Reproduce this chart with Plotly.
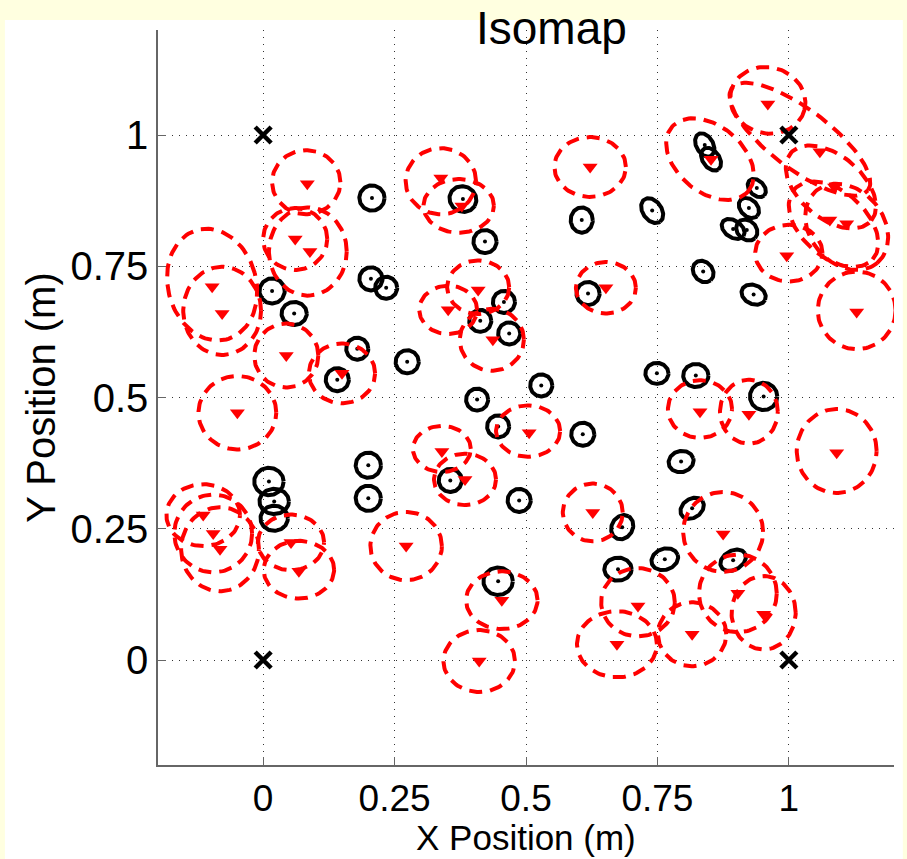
import numpy as np
import plotly.graph_objects as go

# ---- true node positions (black ellipses) ----
true_x = [0.207, 0.380, 0.422, 0.606, 0.740, 0.840, 0.852, 0.939, 0.924, 0.894,
          0.920, 0.837, 0.933, 0.618, 0.017, 0.059, 0.205, 0.234, 0.179, 0.141,
          0.274, 0.458, 0.413, 0.468, 0.407, 0.447, 0.529, 0.749, 0.823, 0.952,
          0.608, 0.795, 0.816, 0.200, 0.200, 0.356, 0.487, 0.011, 0.021, 0.021,
          0.683, 0.675, 0.764, 0.894, 0.447]
true_y = [0.880, 0.878, 0.797, 0.838, 0.856, 0.981, 0.954, 0.899, 0.861, 0.821,
          0.819, 0.740, 0.696, 0.698, 0.703, 0.660, 0.726, 0.709, 0.593, 0.534,
          0.568, 0.682, 0.646, 0.622, 0.496, 0.445, 0.523, 0.546, 0.542, 0.502,
          0.430, 0.378, 0.289, 0.371, 0.308, 0.342, 0.304, 0.340, 0.302, 0.270,
          0.253, 0.173, 0.192, 0.190, 0.150]
true_a = [0.024, 0.026, 0.022, 0.021, 0.026, 0.024, 0.024, 0.020, 0.022, 0.024,
          0.022, 0.022, 0.024, 0.022, 0.024, 0.024, 0.022, 0.021, 0.021, 0.022,
          0.022, 0.021, 0.021, 0.021, 0.021, 0.021, 0.021, 0.022, 0.024, 0.026,
          0.022, 0.024, 0.024, 0.024, 0.024, 0.022, 0.022, 0.028, 0.028, 0.026,
          0.024, 0.026, 0.026, 0.026, 0.028]
true_b = [0.024, 0.024, 0.022, 0.024, 0.018, 0.016, 0.016, 0.014, 0.016, 0.016,
          0.018, 0.018, 0.018, 0.022, 0.024, 0.022, 0.022, 0.021, 0.021, 0.022,
          0.022, 0.021, 0.021, 0.021, 0.021, 0.021, 0.021, 0.020, 0.022, 0.026,
          0.022, 0.020, 0.018, 0.024, 0.024, 0.022, 0.022, 0.026, 0.024, 0.024,
          0.020, 0.022, 0.020, 0.018, 0.026]
true_ang = [0, -30, 0, 0, -55, -60, -55, -45, -45, -35,
            -45, -50, -25, 0, 0, 0, 0, 0, 0, 0,
            0, 0, 0, 0, 0, 0, 0, 0, 0, 0,
            0, 15, 35, 0, 0, 0, 0, 0, 0, 0,
            60, 0, 20, 30, 0]

# ---- Isomap estimates (red triangles) ----
est_x = [0.084, 0.338, 0.378, 0.622, 0.960, 1.059, 1.087, 1.078, 1.110, 0.996,
         1.129, 0.852, 0.652, -0.097, -0.078, 0.061, 0.089, 0.044, -0.049, 0.150,
         0.409, 0.352, 0.437, 0.340, 0.384, 0.506, 0.831, 0.924, 1.091, 0.627,
         0.875, 0.713, 0.903, 0.952, 0.816, 0.673, 0.454, 0.411, 0.272, -0.114,
         -0.095, -0.082, 0.053, 0.068]
est_y = [0.907, 0.918, 0.865, 0.939, 1.059, 0.968, 0.901, 0.838, 0.831, 0.770,
         0.663, 0.954, 0.709, 0.711, 0.660, 0.802, 0.778, 0.580, 0.471, 0.546,
         0.705, 0.667, 0.610, 0.397, 0.344, 0.433, 0.473, 0.468, 0.395, 0.281,
         0.240, 0.103, 0.127, 0.087, 0.049, 0.030, 0.114, -0.002, 0.217, 0.276,
         0.241, 0.211, 0.224, 0.169]
# ---- uncertainty ellipses of the estimates (red dashed) ----
ell_x = [0.082, 0.338, 0.372, 0.622, 0.960, 1.021, 1.080, 1.085, 1.110, 1.000,
         1.129, 0.850, 0.652, -0.097, -0.078, 0.061, 0.085, 0.044, -0.049, 0.150,
         0.409, 0.352, 0.435, 0.340, 0.384, 0.504, 0.831, 0.924, 1.091, 0.627,
         0.875, 0.713, 0.903, 0.952, 0.816, 0.673, 0.454, 0.411, 0.272, -0.114,
         -0.095, -0.082, 0.053, 0.068]
ell_y = [0.910, 0.912, 0.865, 0.939, 1.066, 0.992, 0.901, 0.830, 0.825, 0.775,
         0.666, 0.954, 0.709, 0.715, 0.665, 0.802, 0.778, 0.580, 0.471, 0.546,
         0.710, 0.667, 0.610, 0.402, 0.344, 0.436, 0.478, 0.473, 0.398, 0.281,
         0.244, 0.110, 0.127, 0.090, 0.049, 0.030, 0.114, -0.002, 0.217, 0.276,
         0.241, 0.211, 0.224, 0.172]
ell_a = [0.065, 0.067, 0.067, 0.068, 0.072, 0.162, 0.100, 0.100, 0.090, 0.064,
         0.074, 0.095, 0.057, 0.084, 0.074, 0.061, 0.074, 0.061, 0.074, 0.063,
         0.059, 0.055, 0.061, 0.055, 0.059, 0.061, 0.061, 0.055, 0.076, 0.057,
         0.076, 0.070, 0.074, 0.061, 0.065, 0.076, 0.068, 0.068, 0.068, 0.070,
         0.074, 0.074, 0.063, 0.067]
ell_b = [0.061, 0.063, 0.051, 0.057, 0.063, 0.057, 0.060, 0.062, 0.070, 0.054,
         0.074, 0.063, 0.049, 0.108, 0.084, 0.059, 0.084, 0.061, 0.070, 0.057,
         0.051, 0.046, 0.059, 0.044, 0.049, 0.049, 0.055, 0.061, 0.080, 0.055,
         0.076, 0.065, 0.074, 0.070, 0.061, 0.063, 0.055, 0.059, 0.065, 0.059,
         0.074, 0.080, 0.053, 0.055]
ell_ang = [0, 0, 0, 0, -15, -37, -40, -42, -50, 0,
           0, -40, 0, 15, 0, 0, 0, 0, 0, 0,
           0, 0, 0, 0, 0, 0, 0, 0, 0, 0,
           0, 0, 0, 0, 0, 0, 0, 0, 0, 0,
           0, 0, 0, 0]

# ---- anchor nodes ----
anchor_x = [0, 0, 1, 1]
anchor_y = [0, 1, 0, 1]

tick_vals = [0, 0.25, 0.5, 0.75, 1]
tick_text = ["0", "0.25", "0.5", "0.75", "1"]


def ellipses(cx, cy, a, b, ang, n=120):
    t = np.linspace(0, 2 * np.pi, n)
    xs, ys = [], []
    for x0, y0, aa, bb, g in zip(cx, cy, a, b, ang):
        th = np.deg2rad(g)
        ex = x0 + aa * np.cos(t) * np.cos(th) - bb * np.sin(t) * np.sin(th)
        ey = y0 + aa * np.cos(t) * np.sin(th) + bb * np.sin(t) * np.cos(th)
        xs += list(ex) + [None]
        ys += list(ey) + [None]
    return xs, ys


fig = go.Figure()

bx, by = ellipses(true_x, true_y, true_a, true_b, true_ang)
fig.add_trace(go.Scatter(x=bx, y=by, mode="lines",
                         line=dict(color="black", width=4), hoverinfo="skip"))
fig.add_trace(go.Scatter(x=true_x, y=true_y, mode="markers",
                         marker=dict(color="black", size=4)))

rx, ry = ellipses(ell_x, ell_y, ell_a, ell_b, ell_ang)
fig.add_trace(go.Scatter(x=rx, y=ry, mode="lines",
                         line=dict(color="#ff0000", width=4, dash="13px,8px"),
                         hoverinfo="skip"))
fig.add_trace(go.Scatter(x=est_x, y=est_y, mode="markers",
                         marker=dict(color="#ff0000", size=13, symbol="triangle-down")))

fig.add_trace(go.Scatter(x=anchor_x, y=anchor_y, mode="markers",
                         marker=dict(symbol="x-thin", size=16,
                                     line=dict(color="black", width=4.5))))

font_family = "Liberation Sans, Arial, Helvetica, sans-serif"
axis_common = dict(
    range=[-0.2, 1.2], tickvals=tick_vals, ticktext=tick_text,
    showgrid=True, gridcolor="#333333", gridwidth=1, griddash="1px,6px",
    zeroline=False, showline=True, linecolor="#666666", linewidth=1.5,
    ticks="inside", ticklen=8, tickcolor="#666666", tickwidth=1,
    automargin=False,
)

fig.update_layout(
    width=907, height=859,
    margin=dict(l=158, r=13, t=30, b=94),
    paper_bgcolor="#ffffe0", plot_bgcolor="white",
    showlegend=False,
    font=dict(family=font_family, color="black"),
    xaxis=dict(**axis_common, ticklabelstandoff=0,
               tickfont=dict(size=37, color="black", family=font_family)),
    yaxis=dict(**axis_common, ticklabelstandoff=0,
               tickfont=dict(size=40, color="black", family=font_family)),
    shapes=[dict(type="rect", xref="paper", yref="paper", layer="below",
                 x0=-0.208, x1=1.012, y0=-0.2, y1=1.0136,
                 fillcolor="white", line=dict(width=0))],
    annotations=[
        dict(text="X Position (m)", xref="paper", yref="paper",
             x=0.5, y=-0.0985, xanchor="center", yanchor="middle",
             showarrow=False, font=dict(size=35, color="black")),
        dict(text="Isomap", xref="paper", yref="paper",
             x=0.534, y=1.003, xanchor="center", yanchor="middle",
             showarrow=False, font=dict(size=46, color="black")),
        dict(text="Y Position (m)", xref="paper", yref="paper",
             x=-0.160, y=0.5, xanchor="center", yanchor="middle", textangle=-90,
             showarrow=False, font=dict(size=40, color="black")),
    ],
)

fig.write_html("out.html")
